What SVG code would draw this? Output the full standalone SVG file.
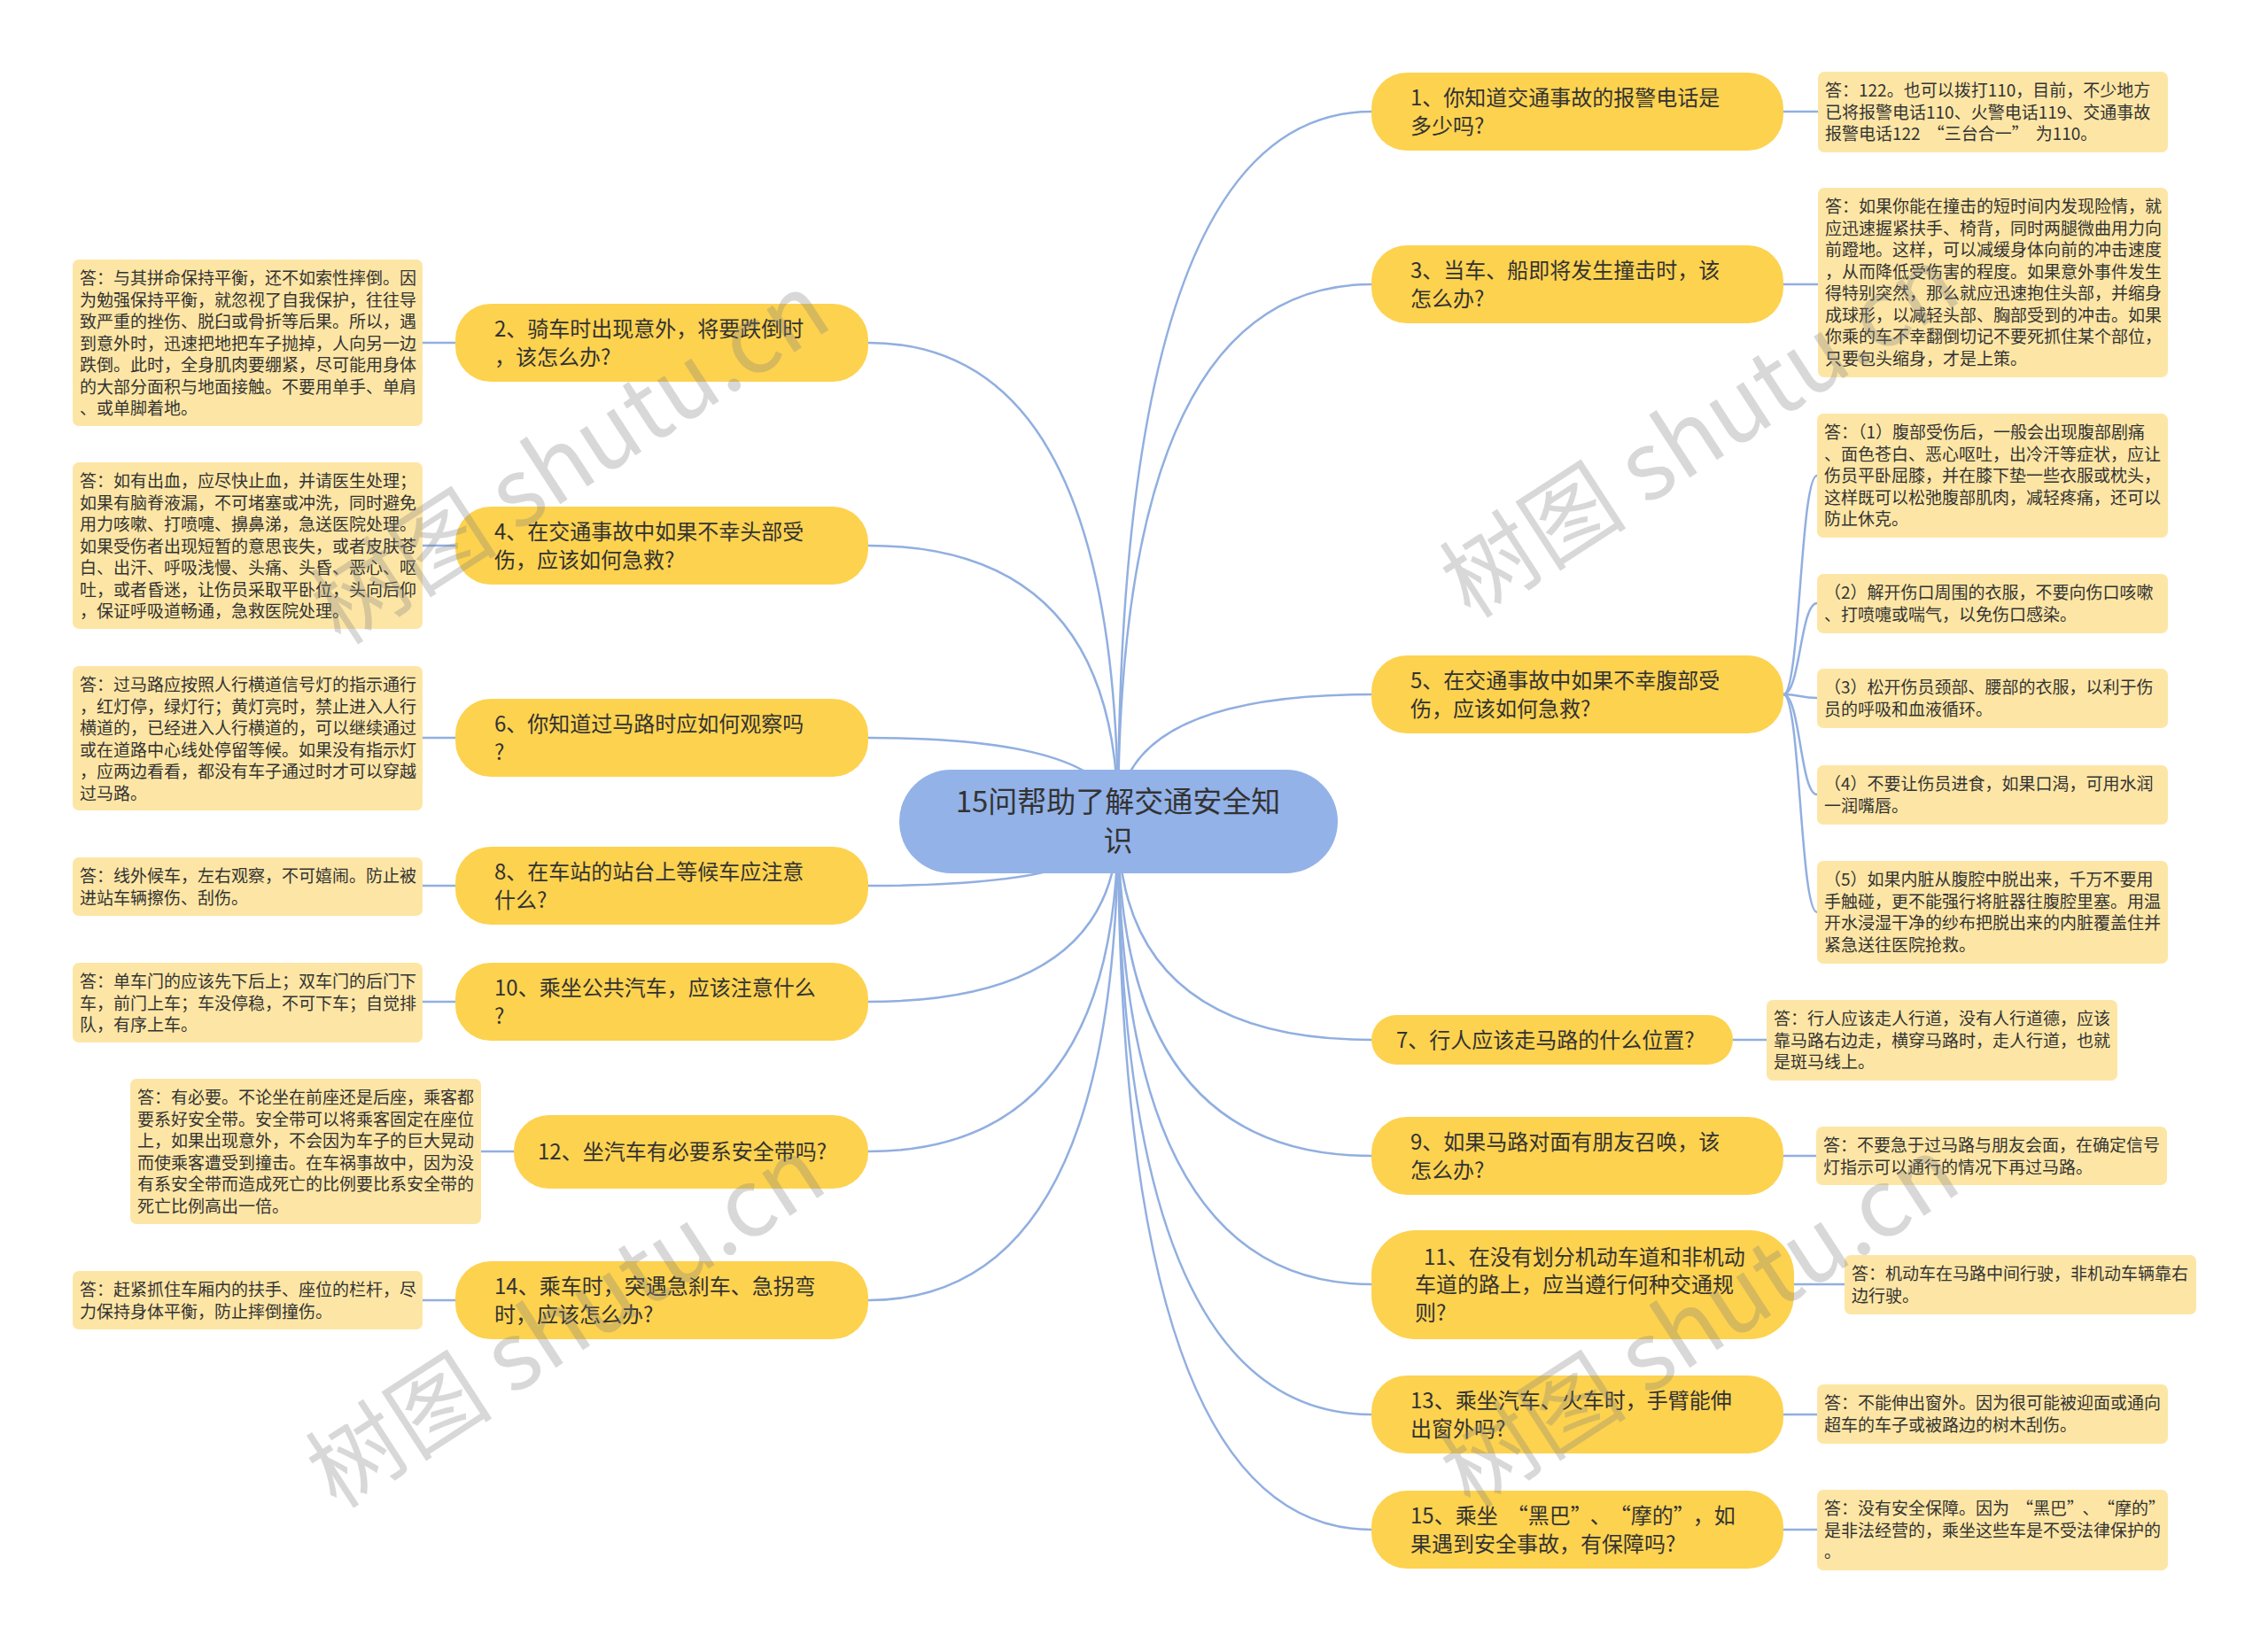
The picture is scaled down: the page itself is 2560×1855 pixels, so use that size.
<svg xmlns="http://www.w3.org/2000/svg" width="2560" height="1855" viewBox="0 0 2560 1855">
<style>
.bg{fill:#ffffff}
.conn path,.conn line{fill:none;stroke:#91afe0;stroke-width:2.5}
.main rect{fill:#fdd24f}
.leaf rect{fill:#fde6a5}
.center rect{fill:#93b2e8}
.mt{font-family:"Noto Sans CJK SC","Noto Sans",sans-serif;font-size:24px;fill:#333}
.lt{font-family:"Noto Sans CJK SC","Noto Sans",sans-serif;font-size:19px;fill:#333}
.ct{font-family:"Noto Sans CJK SC","Noto Sans",sans-serif;font-size:33px;fill:#333}
.wm{font-family:"Noto Sans CJK SC","Noto Sans",sans-serif;font-size:106px;fill:#808080;opacity:0.3}
</style>
<rect class="bg" x="0" y="0" width="2560" height="1855"/>
<g class="conn" id="connectors">
<path d="M1262 927 Q1262 387 980 387"/>
<path d="M1262 927 Q1262 616 980 616"/>
<path d="M1262 927 Q1262 833 980 833"/>
<path d="M1262 927 Q1262 1000 980 1000"/>
<path d="M1262 927 Q1262 1131 980 1131"/>
<path d="M1262 927 Q1262 1300 980 1300"/>
<path d="M1262 927 Q1262 1468 980 1468"/>
<path d="M1262 927 Q1262 126 1548 126"/>
<path d="M1262 927 Q1262 321 1548 321"/>
<path d="M1262 927 Q1262 784 1548 784"/>
<path d="M1262 927 Q1262 1174 1548 1174"/>
<path d="M1262 927 Q1262 1305 1548 1305"/>
<path d="M1262 927 Q1262 1450 1548 1450"/>
<path d="M1262 927 Q1262 1597 1548 1597"/>
<path d="M1262 927 Q1262 1727 1548 1727"/>
<line x1="514" y1="387" x2="477" y2="387"/>
<line x1="514" y1="616" x2="477" y2="616"/>
<line x1="514" y1="833" x2="477" y2="833"/>
<line x1="514" y1="1000" x2="477" y2="1000"/>
<line x1="514" y1="1131" x2="477" y2="1131"/>
<line x1="580" y1="1300" x2="543" y2="1300"/>
<line x1="514" y1="1468" x2="477" y2="1468"/>
<line x1="2013" y1="126" x2="2052" y2="126"/>
<line x1="2013" y1="321" x2="2052" y2="321"/>
<path d="M2013 784 C2032 784 2032 537 2051 537"/>
<path d="M2013 784 C2032 784 2032 681 2051 681"/>
<path d="M2013 784 C2032 784 2032 788 2051 788"/>
<path d="M2013 784 C2032 784 2032 897 2051 897"/>
<path d="M2013 784 C2032 784 2032 1030 2051 1030"/>
<line x1="1956" y1="1174" x2="1994" y2="1174"/>
<line x1="2013" y1="1305" x2="2050" y2="1305"/>
<line x1="2025" y1="1450" x2="2082" y2="1450"/>
<line x1="2013" y1="1597" x2="2051" y2="1597"/>
<line x1="2013" y1="1727" x2="2051" y2="1727"/>
</g>

<g id="center" class="center">
<rect x="1015" y="869" width="495" height="117" rx="58.5"/>
<text class="ct" x="1262" y="917" text-anchor="middle">15问帮助了解交通安全知</text>
<text class="ct" x="1262" y="961" text-anchor="middle">识</text>
</g>

<g id="n2" class="main"><rect x="514" y="343" width="466" height="88" rx="40"/>
<text class="mt" x="558" y="380">2、骑车时出现意外，将要跌倒时</text><text class="mt" x="558" y="412">，该怎么办?</text></g>
<g id="n4" class="main"><rect x="514" y="572" width="466" height="88" rx="40"/>
<text class="mt" x="558" y="609">4、在交通事故中如果不幸头部受</text><text class="mt" x="558" y="641">伤，应该如何急救?</text></g>
<g id="n6" class="main"><rect x="514" y="789" width="466" height="88" rx="40"/>
<text class="mt" x="558" y="826">6、你知道过马路时应如何观察吗</text><text class="mt" x="558" y="858">?</text></g>
<g id="n8" class="main"><rect x="514" y="956" width="466" height="88" rx="40"/>
<text class="mt" x="558" y="993">8、在车站的站台上等候车应注意</text><text class="mt" x="558" y="1025">什么?</text></g>
<g id="n10" class="main"><rect x="514" y="1087" width="466" height="88" rx="40"/>
<text class="mt" x="558" y="1124">10、乘坐公共汽车，应该注意什么</text><text class="mt" x="558" y="1156">?</text></g>
<g id="n12" class="main"><rect x="580" y="1259" width="400" height="83" rx="40"/>
<text class="mt" x="607" y="1309">12、坐汽车有必要系安全带吗?</text></g>
<g id="n14" class="main"><rect x="514" y="1424" width="466" height="88" rx="40"/>
<text class="mt" x="558" y="1461">14、乘车时，突遇急刹车、急拐弯</text><text class="mt" x="558" y="1493">时，应该怎么办?</text></g>

<g id="n1" class="main"><rect x="1548" y="82" width="465" height="88" rx="40"/>
<text class="mt" x="1592" y="119">1、你知道交通事故的报警电话是</text><text class="mt" x="1592" y="151">多少吗?</text></g>
<g id="n3" class="main"><rect x="1548" y="277" width="465" height="88" rx="40"/>
<text class="mt" x="1592" y="314">3、当车、船即将发生撞击时，该</text><text class="mt" x="1592" y="346">怎么办?</text></g>
<g id="n5" class="main"><rect x="1548" y="740" width="465" height="88" rx="40"/>
<text class="mt" x="1592" y="777">5、在交通事故中如果不幸腹部受</text><text class="mt" x="1592" y="809">伤，应该如何急救?</text></g>
<g id="n7" class="main"><rect x="1548" y="1146" width="408" height="56" rx="28"/>
<text class="mt" x="1576" y="1183">7、行人应该走马路的什么位置?</text></g>
<g id="n9" class="main"><rect x="1548" y="1261" width="465" height="88" rx="40"/>
<text class="mt" x="1592" y="1298">9、如果马路对面有朋友召唤，该</text><text class="mt" x="1592" y="1330">怎么办?</text></g>
<g id="n11" class="main"><rect x="1548" y="1389" width="477" height="123" rx="50"/>
<text class="mt" x="1607" y="1428">11、在没有划分机动车道和非机动</text><text class="mt" x="1597" y="1459">车道的路上，应当遵行何种交通规</text><text class="mt" x="1597" y="1491">则?</text></g>
<g id="n13" class="main"><rect x="1548" y="1553" width="465" height="88" rx="40"/>
<text class="mt" x="1592" y="1590">13、乘坐汽车、火车时，手臂能伸</text><text class="mt" x="1592" y="1622">出窗外吗?</text></g>
<g id="n15" class="main"><rect x="1548" y="1683" width="465" height="88" rx="40"/>
<text class="mt" x="1592" y="1720">15、乘坐<tspan dx="10">“</tspan>黑巴”<tspan dx="10">、</tspan><tspan dx="10">“</tspan>摩的”<tspan dx="10">，如</tspan></text><text class="mt" x="1592" y="1752">果遇到安全事故，有保障吗?</text></g>

<g id="a2" class="leaf"><rect x="82" y="293" width="395" height="188" rx="7"/>
<text class="lt" x="90" y="321">答：与其拼命保持平衡，还不如索性摔倒。因</text>
<text class="lt" x="90" y="345.5">为勉强保持平衡，就忽视了自我保护，往往导</text>
<text class="lt" x="90" y="370">致严重的挫伤、脱臼或骨折等后果。所以，遇</text>
<text class="lt" x="90" y="394.5">到意外时，迅速把地把车子抛掉，人向另一边</text>
<text class="lt" x="90" y="419">跌倒。此时，全身肌肉要绷紧，尽可能用身体</text>
<text class="lt" x="90" y="443.5">的大部分面积与地面接触。不要用单手、单肩</text>
<text class="lt" x="90" y="468">、或单脚着地。</text></g>
<g id="a4" class="leaf"><rect x="82" y="522" width="395" height="188" rx="7"/>
<text class="lt" x="90" y="550">答：如有出血，应尽快止血，并请医生处理；</text>
<text class="lt" x="90" y="574.5">如果有脑脊液漏，不可堵塞或冲洗，同时避免</text>
<text class="lt" x="90" y="599">用力咳嗽、打喷嚏、擤鼻涕，急送医院处理。</text>
<text class="lt" x="90" y="623.5">如果受伤者出现短暂的意思丧失，或者皮肤苍</text>
<text class="lt" x="90" y="648">白、出汗、呼吸浅慢、头痛、头昏、恶心、呕</text>
<text class="lt" x="90" y="672.5">吐，或者昏迷，让伤员采取平卧位，头向后仰</text>
<text class="lt" x="90" y="697">，保证呼吸道畅通，急救医院处理。</text></g>
<g id="a6" class="leaf"><rect x="82" y="752" width="395" height="163" rx="7"/>
<text class="lt" x="90" y="780">答：过马路应按照人行横道信号灯的指示通行</text>
<text class="lt" x="90" y="804.5">，红灯停，绿灯行；黄灯亮时，禁止进入人行</text>
<text class="lt" x="90" y="829">横道的，已经进入人行横道的，可以继续通过</text>
<text class="lt" x="90" y="853.5">或在道路中心线处停留等候。如果没有指示灯</text>
<text class="lt" x="90" y="878">，应两边看看，都没有车子通过时才可以穿越</text>
<text class="lt" x="90" y="902.5">过马路。</text></g>
<g id="a8" class="leaf"><rect x="82" y="968" width="395" height="66" rx="7"/>
<text class="lt" x="90" y="996">答：线外候车，左右观察，不可嬉闹。防止被</text>
<text class="lt" x="90" y="1020.5">进站车辆擦伤、刮伤。</text></g>
<g id="a10" class="leaf"><rect x="82" y="1087" width="395" height="90" rx="7"/>
<text class="lt" x="90" y="1115">答：单车门的应该先下后上；双车门的后门下</text>
<text class="lt" x="90" y="1139.5">车，前门上车；车没停稳，不可下车；自觉排</text>
<text class="lt" x="90" y="1164">队，有序上车。</text></g>
<g id="a12" class="leaf"><rect x="147" y="1218" width="396" height="164" rx="7"/>
<text class="lt" x="155" y="1246">答：有必要。不论坐在前座还是后座，乘客都</text>
<text class="lt" x="155" y="1270.5">要系好安全带。安全带可以将乘客固定在座位</text>
<text class="lt" x="155" y="1295">上，如果出现意外，不会因为车子的巨大晃动</text>
<text class="lt" x="155" y="1319.5">而使乘客遭受到撞击。在车祸事故中，因为没</text>
<text class="lt" x="155" y="1344">有系安全带而造成死亡的比例要比系安全带的</text>
<text class="lt" x="155" y="1368.5">死亡比例高出一倍。</text></g>
<g id="a14" class="leaf"><rect x="82" y="1435" width="395" height="66" rx="7"/>
<text class="lt" x="90" y="1463">答：赶紧抓住车厢内的扶手、座位的栏杆，尽</text>
<text class="lt" x="90" y="1487.5">力保持身体平衡，防止摔倒撞伤。</text></g>

<g id="a1" class="leaf"><rect x="2052" y="81" width="395" height="91" rx="7"/>
<text class="lt" x="2060" y="109">答：122。也可以拨打110，目前，不少地方</text>
<text class="lt" x="2060" y="133.5">已将报警电话110、火警电话119、交通事故</text>
<text class="lt" x="2060" y="158">报警电话122<tspan dx="8">“</tspan>三台合一”<tspan dx="8">为110。</tspan></text></g>
<g id="a3" class="leaf"><rect x="2052" y="212" width="395" height="214" rx="7"/>
<text class="lt" x="2060" y="240">答：如果你能在撞击的短时间内发现险情，就</text>
<text class="lt" x="2060" y="264.5">应迅速握紧扶手、椅背，同时两腿微曲用力向</text>
<text class="lt" x="2060" y="289">前蹬地。这样，可以减缓身体向前的冲击速度</text>
<text class="lt" x="2060" y="313.5">，从而降低受伤害的程度。如果意外事件发生</text>
<text class="lt" x="2060" y="338">得特别突然，那么就应迅速抱住头部，并缩身</text>
<text class="lt" x="2060" y="362.5">成球形，以减轻头部、胸部受到的冲击。如果</text>
<text class="lt" x="2060" y="387">你乘的车不幸翻倒切记不要死抓住某个部位，</text>
<text class="lt" x="2060" y="411.5">只要包头缩身，才是上策。</text></g>
<g id="a5-1" class="leaf"><rect x="2051" y="467" width="396" height="140" rx="7"/>
<text class="lt" x="2059" y="495">答：（1）腹部受伤后，一般会出现腹部剧痛</text>
<text class="lt" x="2059" y="519.5">、面色苍白、恶心呕吐，出冷汗等症状，应让</text>
<text class="lt" x="2059" y="544">伤员平卧屈膝，并在膝下垫一些衣服或枕头，</text>
<text class="lt" x="2059" y="568.5">这样既可以松弛腹部肌肉，减轻疼痛，还可以</text>
<text class="lt" x="2059" y="593">防止休克。</text></g>
<g id="a5-2" class="leaf"><rect x="2051" y="648" width="396" height="67" rx="7"/>
<text class="lt" x="2059" y="676">（2）解开伤口周围的衣服，不要向伤口咳嗽</text>
<text class="lt" x="2059" y="700.5">、打喷嚏或喘气，以免伤口感染。</text></g>
<g id="a5-3" class="leaf"><rect x="2051" y="755" width="396" height="67" rx="7"/>
<text class="lt" x="2059" y="783">（3）松开伤员颈部、腰部的衣服，以利于伤</text>
<text class="lt" x="2059" y="807.5">员的呼吸和血液循环。</text></g>
<g id="a5-4" class="leaf"><rect x="2051" y="864" width="396" height="67" rx="7"/>
<text class="lt" x="2059" y="892">（4）不要让伤员进食，如果口渴，可用水润</text>
<text class="lt" x="2059" y="916.5">一润嘴唇。</text></g>
<g id="a5-5" class="leaf"><rect x="2051" y="972" width="396" height="116" rx="7"/>
<text class="lt" x="2059" y="1000">（5）如果内脏从腹腔中脱出来，千万不要用</text>
<text class="lt" x="2059" y="1024.5">手触碰，更不能强行将脏器往腹腔里塞。用温</text>
<text class="lt" x="2059" y="1049">开水浸湿干净的纱布把脱出来的内脏覆盖住并</text>
<text class="lt" x="2059" y="1073.5">紧急送往医院抢救。</text></g>
<g id="a7" class="leaf"><rect x="1994" y="1129" width="396" height="91" rx="7"/>
<text class="lt" x="2002" y="1157">答：行人应该走人行道，没有人行道德，应该</text>
<text class="lt" x="2002" y="1181.5">靠马路右边走，横穿马路时，走人行道，也就</text>
<text class="lt" x="2002" y="1206">是斑马线上。</text></g>
<g id="a9" class="leaf"><rect x="2050" y="1272" width="396" height="66" rx="7"/>
<text class="lt" x="2058" y="1300">答：不要急于过马路与朋友会面，在确定信号</text>
<text class="lt" x="2058" y="1324.5">灯指示可以通行的情况下再过马路。</text></g>
<g id="a11" class="leaf"><rect x="2082" y="1417" width="397" height="67" rx="7"/>
<text class="lt" x="2090" y="1445">答：机动车在马路中间行驶，非机动车辆靠右</text>
<text class="lt" x="2090" y="1469.5">边行驶。</text></g>
<g id="a13" class="leaf"><rect x="2051" y="1563" width="396" height="67" rx="7"/>
<text class="lt" x="2059" y="1591">答：不能伸出窗外。因为很可能被迎面或通向</text>
<text class="lt" x="2059" y="1615.5">超车的车子或被路边的树木刮伤。</text></g>
<g id="a15" class="leaf"><rect x="2051" y="1682" width="396" height="91" rx="7"/>
<text class="lt" x="2059" y="1710">答：没有安全保障。因为<tspan dx="8">“</tspan>黑巴”<tspan dx="8">、</tspan><tspan dx="8">“</tspan>摩的”</text>
<text class="lt" x="2059" y="1734.5">是非法经营的，乘坐这些车是不受法律保护的</text>
<text class="lt" x="2059" y="1759">。</text></g>

<g id="watermarks">
<text class="wm" transform="translate(385,730) rotate(-33)">树图 shutu.cn</text>
<text class="wm" transform="translate(1660,700) rotate(-33)">树图 shutu.cn</text>
<text class="wm" transform="translate(380,1705) rotate(-33)">树图 shutu.cn</text>
<text class="wm" transform="translate(1660,1705) rotate(-33)">树图 shutu.cn</text>
</g>
</svg>
